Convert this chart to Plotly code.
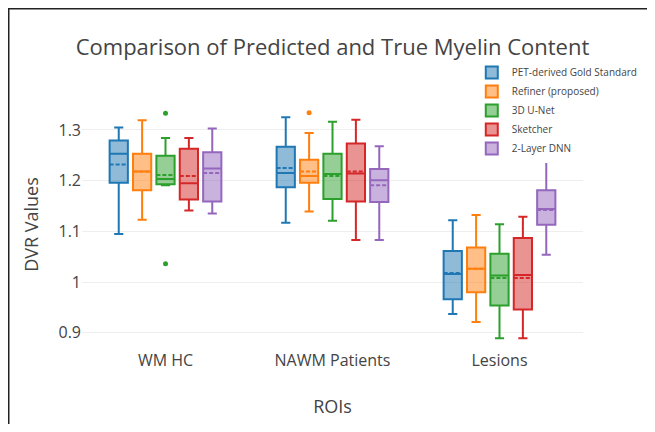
import plotly.graph_objects as go

categories = ["WM HC", "NAWM Patients", "Lesions"]
series_names = ["PET-derived Gold Standard", "Refiner (proposed)", "3D U-Net", "Sketcher", "2-Layer DNN"]
colors = ["#1f77b4", "#ff7f0e", "#2ca02c", "#d62728", "#9467bd"]

# per-series stats, one value per category (WM HC, NAWM Patients, Lesions)
gold_lower = [1.095, 1.117, 0.937]
gold_q1 = [1.196, 1.187, 0.966]
gold_median = [1.253, 1.215, 1.016]
gold_mean = [1.232, 1.225, 1.018]
gold_q3 = [1.279, 1.267, 1.061]
gold_upper = [1.305, 1.325, 1.122]
gold_outliers = [[], [], []]

refiner_lower = [1.123, 1.139, 0.921]
refiner_q1 = [1.181, 1.196, 0.980]
refiner_median = [1.218, 1.209, 1.026]
refiner_mean = [1.218, 1.218, 1.026]
refiner_q3 = [1.253, 1.241, 1.068]
refiner_upper = [1.319, 1.294, 1.132]
refiner_outliers = [[], [1.334], []]

unet_lower = [1.191, 1.121, 0.889]
unet_q1 = [1.193, 1.164, 0.954]
unet_median = [1.203, 1.213, 1.013]
unet_mean = [1.211, 1.209, 1.008]
unet_q3 = [1.249, 1.253, 1.056]
unet_upper = [1.284, 1.316, 1.114]
unet_outliers = [[1.333, 1.036], [], []]

sketcher_lower = [1.141, 1.083, 0.889]
sketcher_q1 = [1.163, 1.159, 0.946]
sketcher_median = [1.195, 1.214, 1.014]
sketcher_mean = [1.209, 1.218, 1.008]
sketcher_q3 = [1.263, 1.273, 1.087]
sketcher_upper = [1.284, 1.320, 1.129]
sketcher_outliers = [[], [], []]

dnn_lower = [1.135, 1.083, 1.054]
dnn_q1 = [1.159, 1.158, 1.113]
dnn_median = [1.224, 1.201, 1.144]
dnn_mean = [1.215, 1.191, 1.142]
dnn_q3 = [1.256, 1.223, 1.181]
dnn_upper = [1.303, 1.268, 1.237]
dnn_outliers = [[], [], []]

stats = [
    (gold_lower, gold_q1, gold_median, gold_mean, gold_q3, gold_upper, gold_outliers),
    (refiner_lower, refiner_q1, refiner_median, refiner_mean, refiner_q3, refiner_upper, refiner_outliers),
    (unet_lower, unet_q1, unet_median, unet_mean, unet_q3, unet_upper, unet_outliers),
    (sketcher_lower, sketcher_q1, sketcher_median, sketcher_mean, sketcher_q3, sketcher_upper, sketcher_outliers),
    (dnn_lower, dnn_q1, dnn_median, dnn_mean, dnn_q3, dnn_upper, dnn_outliers),
]

# figure sized to fit inside the page's 8px body margin without scrollbars
W, H = 639, 416
L, T = 74, 92
PW, PH = 501, 249
R, B = W - L - PW, H - T - PH

fig = go.Figure()
for name, color, (lo, q1, med, mean, q3, up, outl) in zip(series_names, colors, stats):
    # sample points per box: the median (inside the box, never drawn) plus outliers
    pts = [[m] + list(o) for m, o in zip(med, outl)]
    fig.add_trace(go.Box(
        name=name, x=categories, y=pts,
        lowerfence=lo, q1=q1, median=med, mean=mean, q3=q3, upperfence=up,
        boxmean=True, boxpoints="outliers", pointpos=0, jitter=0,
        marker=dict(color=color, size=5), line=dict(color=color, width=2),
    ))

fig.update_layout(
    width=W, height=H,
    boxmode="group", boxgroupgap=0.22,
    font=dict(family="Open Sans, verdana, arial, sans-serif", color="#444"),
    title=dict(text="Comparison of Predicted and True Myelin Content", x=0.5, xref="paper",
               y=1 - 39 / H, yref="container", yanchor="middle", font=dict(size=22)),
    margin=dict(l=L, r=R, t=T, b=B, autoexpand=False),
    plot_bgcolor="white", paper_bgcolor="white",
    legend=dict(x=0.778, y=1.169, xanchor="left", yanchor="top", bgcolor="rgba(255,255,255,1)",
                font=dict(size=10), tracegroupgap=0, itemsizing="constant"),
    xaxis=dict(title=dict(text="ROIs", font=dict(size=18), standoff=30), tickfont=dict(size=16),
               showgrid=False, automargin=False, range=[-0.5, 2.5], autorange=False),
    yaxis=dict(title=dict(text="DVR Values", font=dict(size=18)), tickfont=dict(size=16),
               range=[0.868, 1.359], tickvals=[0.9, 1.0, 1.1, 1.2, 1.3], ticktext=["0.9", "1", "1.1", "1.2", "1.3"],
               gridcolor="#eee", zeroline=False, automargin=False),
    shapes=[
        dict(type="line", xref="paper", yref="paper", x0=-L / PW, x1=-L / PW, y0=(PH + T) / PH, y1=-(B + 5) / PH,
             line=dict(color="#222", width=3)),
        dict(type="line", xref="paper", yref="paper", x0=-L / PW, x1=(W - L + 5) / PW, y0=(PH + T) / PH, y1=(PH + T) / PH,
             line=dict(color="#222", width=3)),
    ],
)

fig.write_html("out.html")
